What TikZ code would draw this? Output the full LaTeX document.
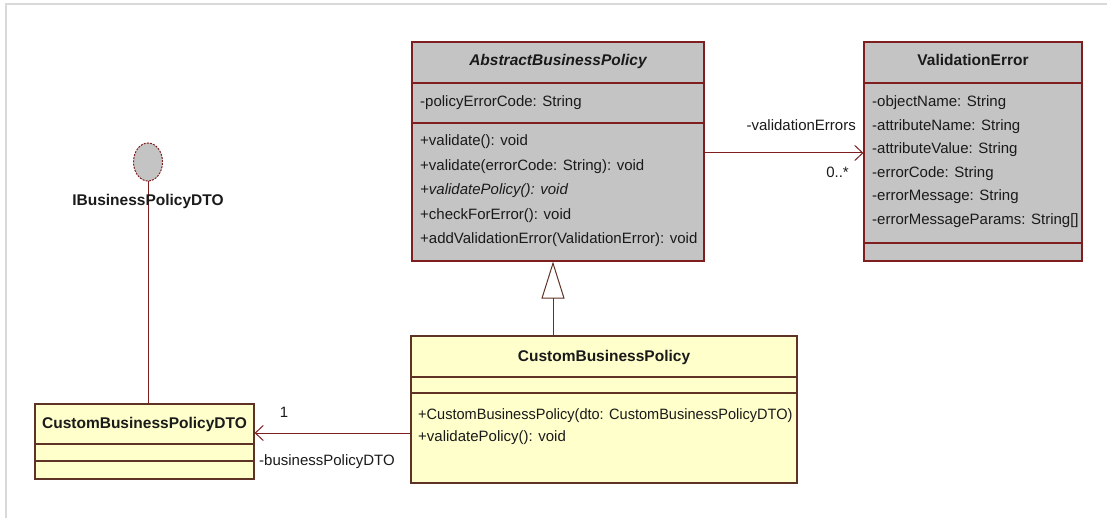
\documentclass[tikz,border=0pt]{standalone}
\usepackage{fontspec}
\setmainfont{Liberation Sans}
\usetikzlibrary{arrows.meta,shapes.geometric}
\definecolor{grayfill}{HTML}{C4C4C4}
\definecolor{redline}{HTML}{7E1E1E}
\definecolor{yelfill}{HTML}{FFFFCC}
\definecolor{yelline}{HTML}{5E3224}
\definecolor{framec}{HTML}{D9D9D9}
\definecolor{txtc}{HTML}{1A1A1A}
\tikzset{
  graybox/.style={draw=redline, fill=grayfill, line width=1.1pt, rectangle, inner sep=0pt},
  yelbox/.style={draw=yelline, fill=yelfill, line width=1.1pt, rectangle, inner sep=0pt},
  grysep/.style={draw=redline, line width=1.1pt},
  yelsep/.style={draw=yelline, line width=1.1pt},
  txt/.style={font=\fontsize{15}{18}\selectfont, text=txtc, inner sep=0pt, text height=11pt, text depth=3pt},
  ttl/.style={txt, font=\fontsize{15.5}{18}\selectfont\bfseries},
  conn/.style={draw=redline, line width=1pt},
  assoc/.style={conn, -{Straight Barb[length=8pt,width=15pt,line width=1pt]}},
  gen/.style={draw=yelline, line width=1pt, -{Triangle[open,length=37pt,width=23pt,line width=1pt]}},
  iface/.style={ellipse, draw=redline, dashed, dash pattern=on 2pt off 1.2pt, fill=grayfill, line width=1pt, minimum width=29pt, minimum height=38pt, inner sep=0pt},
}
\begin{document}
\begin{tikzpicture}[x=1pt,y=-1pt]
\useasboundingbox (0,0) rectangle (1107,518);
% frame
\draw[framec, line width=2pt] (6,518) -- (6,4) -- (1107,4);

% AbstractBusinessPolicy
\node[graybox, minimum width=292pt, minimum height=219pt] (abp) at (558,151.5) {};
\draw[grysep] (abp.west |- 0,83) -- (abp.east |- 0,83);
\draw[grysep] (abp.west |- 0,123) -- (abp.east |- 0,123);
\node[ttl, font=\fontsize{15.5}{18}\selectfont\bfseries\itshape] (abpt) at (558,62) {AbstractBusinessPolicy};
\node[txt, anchor=west] (abpa1) at (420,103) {-policyErrorCode: String};
\node[txt, anchor=west] (abpm1) at (420,142) {+validate(): void};
\node[txt, anchor=west] (abpm2) at (420,166.5) {+validate(errorCode: String): void};
\node[txt, anchor=west, font=\fontsize{15}{18}\selectfont\itshape] (abpm3) at (420,191) {+validatePolicy(): void};
\node[txt, anchor=west] (abpm4) at (420,215.5) {+checkForError(): void};
\node[txt, anchor=west] (abpm5) at (420,240) {+addValidationError(ValidationError): void};

% ValidationError
\node[graybox, minimum width=218pt, minimum height=219pt] (ve) at (973,151.5) {};
\draw[grysep] (ve.west |- 0,83) -- (ve.east |- 0,83);
\draw[grysep] (ve.west |- 0,243) -- (ve.east |- 0,243);
\node[ttl] (vet) at (973,62) {ValidationError};
\node[txt, anchor=west] (vea1) at (872,103) {-objectName: String};
\node[txt, anchor=west] (vea2) at (872,127) {-attributeName: String};
\node[txt, anchor=west] (vea3) at (872,150) {-attributeValue: String};
\node[txt, anchor=west] (vea4) at (872,173.5) {-errorCode: String};
\node[txt, anchor=west] (vea5) at (872,197) {-errorMessage: String};
\node[txt, anchor=west] (vea6) at (872,221) {-errorMessageParams: String[]};

% CustomBusinessPolicy
\node[yelbox, minimum width=386pt, minimum height=147pt] (cbp) at (604,409.5) {};
\draw[yelsep] (cbp.west |- 0,377) -- (cbp.east |- 0,377);
\draw[yelsep] (cbp.west |- 0,393) -- (cbp.east |- 0,393);
\node[ttl] (cbpt) at (604,357) {CustomBusinessPolicy};
\node[txt, anchor=west] (cbpm1) at (418,415) {\scalebox{0.97}[1]{+CustomBusinessPolicy(dto: CustomBusinessPolicyDTO)}};
\node[txt, anchor=west] (cbpm2) at (418,437) {+validatePolicy(): void};

% CustomBusinessPolicyDTO
\node[yelbox, minimum width=219pt, minimum height=75pt] (dto) at (144.5,441.5) {};
\draw[yelsep] (dto.west |- 0,444) -- (dto.east |- 0,444);
\draw[yelsep] (dto.west |- 0,461) -- (dto.east |- 0,461);
\node[ttl] (dtot) at (144.5,424) {CustomBusinessPolicyDTO};

% Interface
\node[iface] (ibp) at (148,162) {};
\draw[conn] (ibp.south) -- (ibp.south |- dto.north);
\node[ttl] (ibpl) at (148,202) {IBusinessPolicyDTO};

% Generalization
\draw[gen] (cbp.north -| 553,0) -- (abp.south -| 553,0);

% Associations
\draw[assoc] (abp.east |- 0,153) -- (ve.west |- 0,153);
\node[txt, anchor=east] (lve) at (856,127) {-validationErrors};
\node[txt, anchor=east] (mve) at (849,174) {0..*};

\draw[assoc] (cbp.west |- 0,433) -- (dto.east |- 0,433);
\node[txt] (mdto) at (284,413) {1};
\node[txt, anchor=west] (ldto) at (259,461) {-businessPolicyDTO};
\end{tikzpicture}
\end{document}
